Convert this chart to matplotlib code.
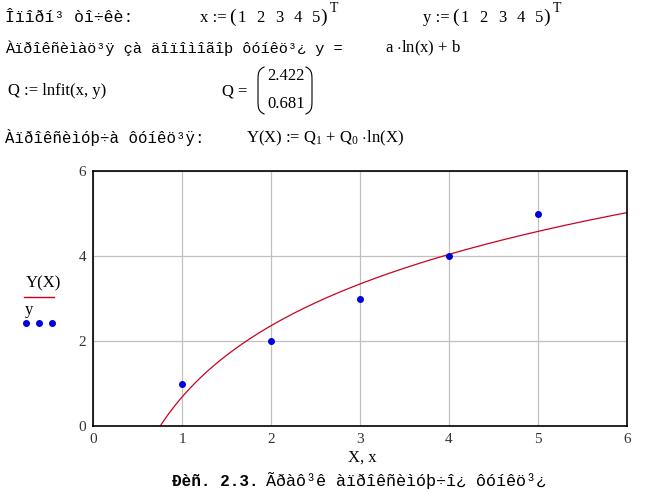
import numpy as np
import matplotlib.pyplot as plt
from matplotlib.lines import Line2D

# дані
x = [1, 2, 3, 4, 5]
y = [1, 2, 3, 4, 5]
Q = [2.422, 0.681]
x_ticks = [0, 1, 2, 3, 4, 5, 6]
y_ticks = [0, 2, 4, 6]

plt.rcParams['mathtext.fontset'] = 'custom'
plt.rcParams['mathtext.rm'] = 'Liberation Serif'
plt.rcParams['mathtext.it'] = 'Liberation Serif'

W, H = 649, 491
fig = plt.figure(figsize=(W / 100, H / 100), dpi=100)


def px(xp, yp):
    # піксельні координати -> координати фігури
    return xp / W, 1 - yp / H


def mono(size=11.5, **kw):
    return dict(family='Liberation Mono', fontsize=size, color='black', **kw)


serif = dict(family='Liberation Serif', fontsize=12, color='black')

# верхній текст
fig.text(*px(5, 18), 'Îïîðí³ òî÷êè:', va='center', ha='left', **mono(11.8))


def vector(name, x0, vals):
    # x :=(1 2 3 4 5)^T
    fig.text(*px(x0, 18), name + ' :=', va='center', ha='left', **serif)
    fig.text(*px(x0 + 29, 17), '(', va='center', ha='left', family='Liberation Serif', fontsize=14)
    for i, v in enumerate(vals):
        fig.text(*px(x0 + 42 + 18.5 * i, 18), str(v), va='center', ha='center', **serif)
    fig.text(*px(x0 + 120, 17), ')', va='center', ha='left', family='Liberation Serif', fontsize=14)
    fig.text(*px(x0 + 130, 9), 'T', va='center', ha='left', family='Liberation Serif', fontsize=10)


vector('x', 200, x)
vector('y', 423, y)

fig.text(*px(5, 48), 'Àïðîêñèìàö³ÿ çà äîïîìîãîþ ôóíêö³¿ y =', va='center', ha='left', **mono(11.0))
fig.text(*px(385, 48), r'a $\cdot$ln(x) + b', va='center', ha='left', **serif)

fig.text(*px(8, 91), 'Q := lnfit(x, y)', va='center', ha='left', **serif)
fig.text(*px(222, 91), 'Q =', va='center', ha='left', **serif)
fig.text(*px(267, 76), f'{Q[0]:.3f}', va='center', ha='left', **serif)
fig.text(*px(267, 104), f'{Q[1]:.3f}', va='center', ha='left', **serif)

# дужки матриці
t = np.linspace(0, 1, 40)
top, bot = 67, 114
yy = top + (bot - top) * t
curv = 1 - (2 * t - 1) ** 8
for x0, sgn in [(264, -1), (306, 1)]:
    xx = x0 + sgn * 6 * curv
    fx, fy = zip(*[px(a, b) for a, b in zip(xx, yy)])
    fig.add_artist(Line2D(fx, fy, color='black', lw=0.8, transform=fig.transFigure))

fig.text(*px(5, 137), 'Àïðîêñèìóþ÷à ôóíêö³ÿ:', va='center', ha='left', **mono(11.3))
fig.text(*px(246, 138), r'Y(X) := Q$_1$ + Q$_0$ $\cdot$ln(X)', va='center', ha='left', **serif)

# графік
ax = fig.add_axes([93 / W, 1 - 426 / H, (627 - 93) / W, (426 - 171) / H])
X = np.linspace(0.5, 6, 400)
Y = Q[1] + Q[0] * np.log(X)
ax.plot(X, Y, color='#cc0022', lw=0.9)
ax.plot(x, y, 'o', color='#0000dd', ms=4)

ax.set_xlim(0, 6)
ax.set_ylim(0, 6)
ax.set_xticks(x_ticks)
ax.set_yticks(y_ticks)
ax.grid(True, color='#c0c0c0', lw=0.9)
ax.tick_params(length=0, labelsize=11, labelcolor='#333333', pad=5)
for lab in ax.get_xticklabels() + ax.get_yticklabels():
    lab.set_family('Liberation Serif')
for s in ax.spines.values():
    s.set_linewidth(1.2)

fig.text(*px(362, 458), 'X, x', va='center', ha='center', **serif)

# легенда ліворуч
fig.text(*px(26, 283), 'Y(X)', va='center', ha='left', **serif)
fig.add_artist(Line2D([24 / W, 54 / W], [1 - 297 / H] * 2, color='#cc0022', lw=1, transform=fig.transFigure))
fig.text(*px(25, 310), 'y', va='center', ha='left', **serif)
fig.add_artist(Line2D([26 / W, 39 / W, 52 / W], [1 - 323 / H] * 3, ls='none', marker='o', ms=4,
                      color='#0000dd', transform=fig.transFigure))

# підпис
fig.text(*px(172, 481), 'Ðèñ. 2.3.', va='center', ha='left', **mono(11.5, fontweight='bold'))
fig.text(*px(266, 481), 'Ãðàô³ê àïðîêñèìóþ÷î¿ ôóíêö³¿', va='center', ha='left', **mono(12.1))

fig.savefig('out.png', dpi=100)
